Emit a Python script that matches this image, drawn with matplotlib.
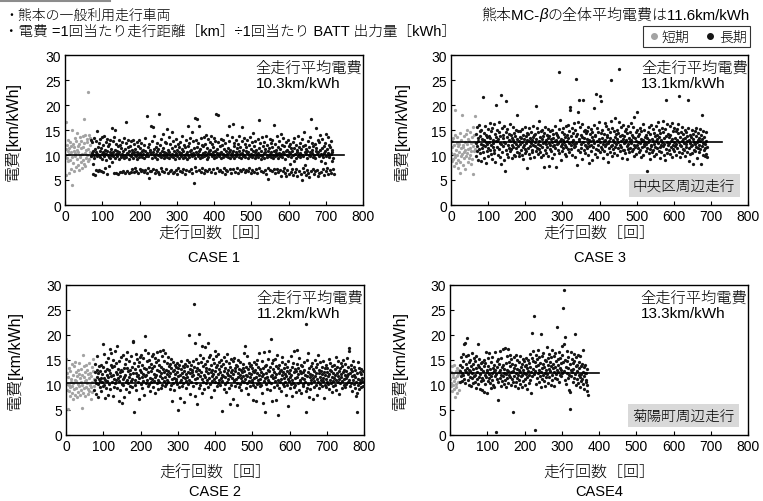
import numpy as np
import matplotlib
matplotlib.use("Agg")
import matplotlib.pyplot as plt
from matplotlib.lines import Line2D

plt.rcParams['font.family'] = ['Liberation Sans', 'Noto Sans CJK JP', 'DejaVu Sans']
plt.rcParams['font.weight'] = 'light'
plt.rcParams['axes.labelweight'] = 'light'

# ---- data: 電費 [km/kWh] per run (run number = position in the series) ----
c1_short = [
    9.8, 16.7, 11.2, 6.0, 12.1, 9.5, 10.8, 13.0, 8.9, 11.5,
    6.4, 10.2, 12.6, 9.1, 11.9, 7.2, 10.6, 4.0, 15.1, 9.7,
    12.3, 8.4, 10.9, 11.6, 6.8, 13.4, 9.9, 10.4, 7.6, 12.8,
    11.1, 9.3, 14.4, 8.1, 10.7, 11.8, 7.0, 12.2, 9.6, 13.7,
    10.1, 8.6, 11.4, 12.9, 7.4, 10.3, 13.9, 9.0, 11.7, 17.2,
    8.3, 12.4, 10.5, 14.1, 7.8, 11.0, 9.4, 12.7, 10.0, 13.2,
    8.8, 11.3, 22.7, 9.2, 14.0, 10.6, 12.0, 13.5, 9.9]
c1_long = [
    13.1, 9.8, 10.4, 12.7, 6.3, 10.9, 8.2, 13.4, 10.1, 9.5, 6.0, 11.2, 10.6, 7.1, 12.9, 14.8, 9.9, 10.3, 6.8, 11.7,
    10.0, 12.4, 7.0, 9.6, 13.2, 10.8, 6.9, 11.5, 10.2, 13.6, 9.3, 10.7, 12.1, 6.6, 10.5, 13.9, 9.8, 11.0, 7.4, 12.6,
    10.3, 9.1, 13.3, 10.9, 6.2, 11.8, 10.0, 12.2, 9.7, 7.8, 10.6, 13.0, 9.4, 11.3, 10.1, 15.4, 8.7, 10.4, 12.8, 9.9,
    10.7, 13.7, 6.4, 11.1, 9.5, 15.1, 10.2, 12.3, 6.5, 10.8, 9.8, 11.9, 6.3, 10.4, 13.1, 9.2, 10.6, 6.7, 12.0, 10.1,
    9.6, 11.4, 6.6, 10.3, 12.7, 9.9, 6.8, 10.9, 13.4, 9.4, 11.2, 6.4, 10.0, 12.5, 9.7, 16.7, 10.5, 6.9, 11.6, 10.2,
    13.0, 9.3, 6.5, 10.8, 11.9, 10.1, 6.7, 12.9, 9.8, 10.4, 7.2, 11.0, 13.0, 9.5, 6.6, 10.7, 12.2, 10.0, 7.5, 11.3,
    9.9, 6.9, 10.6, 12.6, 9.2, 10.3, 6.4, 11.8, 13.1, 9.7, 7.3, 10.5, 11.4, 6.8, 10.1, 12.4, 9.6, 7.0, 10.9, 11.1,
    10.2, 6.6, 12.0, 9.4, 10.8, 7.1, 13.5, 10.0, 9.8, 6.5, 17.8, 10.4, 11.7, 7.4, 9.9, 5.5, 12.3, 10.6, 6.9, 11.0,
    15.8, 10.3, 6.8, 12.8, 9.5, 15.7, 10.7, 7.2, 11.3, 10.0, 13.9, 6.4, 9.7, 11.6, 10.2, 7.0, 12.5, 9.3, 10.9, 6.7,
    11.2, 10.1, 18.2, 6.3, 9.8, 12.1, 10.5, 7.5, 13.2, 9.6, 10.8, 6.9, 11.5, 10.0, 14.3, 9.4, 6.6, 10.6, 12.7, 9.9,
    10.4, 7.3, 12.4, 9.7, 15.2, 10.2, 6.5, 11.1, 9.5, 13.6, 10.7, 6.8, 10.0, 12.2, 9.8, 7.1, 11.4, 14.7, 10.3, 6.4,
    9.6, 12.9, 10.9, 6.7, 11.8, 10.1, 9.3, 7.0, 13.3, 10.5, 6.2, 11.0, 9.9, 12.3, 7.4, 10.6, 11.7, 9.4, 6.9, 10.2,
    12.6, 9.8, 10.4, 6.6, 11.3, 13.8, 9.5, 10.8, 7.2, 10.0, 12.0, 6.3, 9.7, 11.6, 10.3, 13.1, 7.0, 10.7, 9.2, 11.9,
    15.8, 10.1, 6.8, 12.4, 9.6, 10.9, 13.5, 7.3, 10.2, 11.1, 9.9, 14.6, 6.5, 10.5, 12.8, 4.5, 10.0, 11.4, 7.6, 9.4,
    17.5, 10.6, 13.0, 6.9, 11.7, 17.3, 9.8, 10.3, 12.5, 7.1, 15.9, 10.8, 9.5, 11.2, 6.6, 13.4, 10.0, 9.7, 12.1, 7.4,
    10.4, 11.9, 6.4, 13.7, 9.9, 10.7, 7.0, 12.3, 10.1, 14.1, 9.3, 6.8, 11.5, 10.5, 13.2, 9.6, 7.3, 10.9, 12.7, 10.2,
    11.0, 6.7, 13.9, 10.3, 9.8, 12.2, 7.2, 10.6, 11.6, 9.4, 13.5, 10.0, 6.5, 12.9, 10.8, 18.3, 9.7, 11.3, 7.5, 10.4,
    18.0, 10.1, 12.6, 6.9, 9.9, 11.8, 10.5, 7.1, 13.3, 9.5, 10.7, 6.6, 12.1, 10.2, 9.6, 13.0, 7.4, 11.2, 10.0, 6.3,
    12.4, 9.8, 10.9, 7.0, 14.0, 10.3, 6.8, 11.5, 9.7, 12.8, 15.9, 10.6, 7.3, 9.4, 11.1, 10.0, 6.5, 13.6, 10.4, 9.9,
    16.2, 10.8, 7.2, 11.9, 9.5, 12.5, 10.1, 6.7, 10.6, 13.1, 9.8, 7.5, 11.4, 10.3, 6.4, 12.2, 9.6, 10.9, 13.8, 7.0,
    10.2, 11.7, 9.4, 6.9, 12.9, 15.7, 10.5, 7.3, 9.9, 11.0, 13.4, 10.0, 6.6, 12.3, 9.7, 10.8, 7.1, 11.6, 10.4, 13.0,
    9.5, 6.8, 10.7, 12.0, 10.1, 7.4, 13.7, 9.8, 11.3, 6.5, 10.3, 12.6, 9.6, 7.0, 10.9, 14.5, 10.0, 6.7, 11.8, 9.4,
    10.6, 12.8, 7.2, 9.9, 11.1, 10.2, 6.4, 13.2, 10.5, 9.7, 17.0, 7.5, 11.5, 10.0, 12.4, 9.3, 6.9, 10.8, 13.6, 10.1,
    9.8, 11.9, 6.6, 10.4, 12.7, 9.5, 7.1, 11.2, 10.7, 13.9, 6.3, 10.0, 9.6, 12.1, 7.4, 5.3, 10.9, 11.4, 9.9, 13.3,
    10.3, 7.0, 12.5, 9.7, 10.6, 6.8, 11.7, 13.1, 9.4, 10.1, 16.0, 7.3, 10.8, 12.2, 9.9, 6.5, 11.0, 10.4, 13.8, 7.2,
    10.0, 11.6, 9.5, 6.6, 12.9, 10.5, 7.1, 9.8, 11.3, 14.2, 5.9, 10.2, 12.0, 9.6, 6.9, 10.7, 13.5, 7.4, 10.3, 11.8,
    9.3, 6.4, 10.9, 12.6, 5.8, 10.1, 11.1, 7.0, 13.0, 9.9, 6.2, 10.6, 11.9, 8.3, 10.4, 12.3, 6.7, 9.7, 11.4, 7.3,
    10.8, 12.7, 6.1, 10.0, 8.9, 11.5, 13.4, 6.6, 10.3, 9.5, 12.1, 7.2, 10.7, 11.0, 5.9, 9.8, 13.9, 10.2, 6.9, 11.7,
    9.6, 12.4, 10.5, 6.3, 11.2, 5.0, 10.0, 13.2, 7.4, 9.9, 11.8, 6.7, 14.6, 10.6, 8.1, 12.0, 6.0, 10.3, 11.3, 7.1,
    10.9, 9.4, 12.9, 6.5, 10.1, 11.6, 5.7, 13.6, 9.8, 10.7, 17.2, 6.8, 11.1, 10.4, 12.5, 7.3, 9.7, 11.9, 6.2, 10.0,
    12.2, 9.5, 6.9, 10.8, 11.4, 15.5, 7.0, 10.2, 13.1, 5.8, 10.6, 9.9, 12.7, 6.4, 11.0, 14.0, 8.8, 10.3, 6.6, 11.5,
    10.1, 13.3, 7.2, 9.6, 11.8, 6.1, 10.5, 12.4, 8.4, 10.9, 14.2, 6.8, 9.8, 11.2, 7.5, 10.4, 13.7, 6.3, 10.0, 12.0,
    9.7, 7.1, 11.6, 10.3, 6.5, 12.8, 8.9, 10.6, 11.1, 7.3, 9.4, 6.2]

c2_short = [
    15.3, 10.2, 12.4, 9.1, 5.2, 11.6, 8.8, 13.5, 10.0, 9.6,
    12.9, 7.8, 11.3, 10.7, 14.2, 8.4, 9.9, 12.1, 10.5, 7.3,
    13.8, 9.2, 11.0, 14.7, 8.1, 10.8, 12.6, 9.5, 11.9, 7.6,
    13.1, 10.3, 8.7, 12.3, 9.8, 14.5, 11.4, 8.0, 10.6, 13.3,
    9.0, 5.5, 12.0, 10.1, 16.0, 8.5, 11.7, 13.9, 9.4, 10.9,
    12.7, 7.9, 11.1, 14.1, 9.7, 10.4, 13.0, 8.3, 12.2, 9.3,
    11.5, 14.4, 8.9, 10.0, 12.5, 7.2, 11.8, 9.6, 13.6, 10.7,
    8.6, 12.8, 15.2, 9.9, 11.2]
c2_long = [
    9.1, 12.6, 11.0, 14.3, 10.4, 8.2, 13.1, 11.7, 15.9, 10.2, 12.4, 7.6, 11.3, 13.8, 10.8, 9.6, 12.9, 11.5, 8.9, 14.1,
    10.7, 12.2, 13.6, 9.9, 18.3, 11.4, 16.2, 10.1, 7.5, 12.8, 11.1, 14.6, 9.4, 13.3, 10.9, 12.0, 8.1, 15.4, 11.6, 13.0,
    10.3, 17.2, 12.5, 9.2, 14.0, 11.8, 16.5, 10.6, 13.7, 7.8, 12.1, 15.1, 11.2, 9.7, 13.9, 10.5, 16.8, 12.7, 11.0, 14.4,
    9.5, 12.3, 17.9, 11.5, 13.2, 6.9, 10.8, 14.8, 12.6, 11.9, 9.0, 15.6, 13.0, 10.2, 6.4, 12.9, 11.3, 16.1, 10.0, 13.5,
    11.7, 7.7, 14.2, 12.0, 10.6, 15.3, 9.3, 13.4, 11.1, 16.6, 10.4, 12.8, 8.6, 14.9, 11.6, 13.1, 9.8, 12.2, 15.8, 10.9,
    13.6, 11.2, 9.6, 18.7, 18.9, 12.4, 4.6, 14.5, 11.0, 13.3, 10.1, 16.3, 12.5, 9.1, 15.2, 11.8, 13.9, 10.7, 12.1, 14.7,
    11.4, 7.2, 13.0, 15.7, 10.3, 12.7, 16.0, 11.6, 9.4, 14.1, 12.2, 10.8, 15.5, 13.5, 8.0, 11.9, 17.0, 19.8, 10.5, 13.2,
    12.0, 14.8, 11.1, 9.9, 16.4, 12.6, 10.2, 15.0, 13.7, 11.5, 8.8, 14.3, 12.9, 10.6, 15.9, 11.3, 13.4, 9.6, 16.2, 12.3,
    10.9, 13.8, 11.7, 15.4, 8.5, 12.1, 14.6, 10.4, 13.1, 16.7, 11.0, 9.2, 15.1, 12.8, 10.7, 14.0, 11.9, 16.9, 9.5, 13.6,
    12.4, 10.1, 15.8, 11.4, 13.3, 17.1, 10.8, 12.7, 14.9, 9.8, 11.6, 16.5, 13.0, 10.3, 12.2, 14.4, 11.1, 15.6, 12.9, 10.6,
    13.9, 11.8, 9.3, 14.2, 12.5, 10.0, 15.3, 13.4, 11.2, 6.8, 12.8, 14.7, 10.5, 13.1, 11.5, 9.1, 14.0, 12.3, 10.9, 13.7,
    11.3, 12.6, 14.5, 10.2, 5.1, 13.5, 11.9, 9.7, 14.1, 12.0, 10.7, 7.4, 13.2, 11.0, 14.8, 12.4, 9.9, 13.8, 11.6, 10.4,
    12.9, 6.6, 13.6, 11.4, 14.3, 10.8, 12.2, 9.5, 13.9, 11.7, 15.0, 10.3, 12.7, 14.6, 20.0, 11.1, 13.3, 8.3, 12.5, 14.0,
    10.6, 13.1, 11.8, 12.6, 14.9, 9.8, 12.1, 26.3, 13.7, 11.2, 18.4, 7.9, 12.8, 10.4, 15.2, 11.5, 13.4, 6.3, 12.3, 14.4,
    9.4, 20.3, 13.0, 11.9, 16.1, 10.1, 12.6, 14.7, 8.4, 17.8, 11.3, 13.8, 10.7, 15.5, 12.0, 9.2, 14.2, 11.6, 17.6, 12.9,
    10.5, 13.5, 11.0, 14.8, 18.5, 12.4, 9.6, 15.7, 11.4, 13.2, 10.2, 16.0, 12.7, 7.6, 14.1, 11.8, 13.0, 10.9, 15.3, 12.2,
    9.0, 14.5, 11.2, 16.8, 12.9, 10.6, 13.7, 15.9, 11.7, 9.8, 14.0, 12.3, 16.3, 10.4, 13.3, 11.1, 14.6, 12.6, 10.0, 15.1,
    11.5, 13.9, 10.8, 12.1, 4.8, 14.3, 11.9, 9.3, 15.6, 12.8, 10.3, 13.4, 11.6, 14.9, 8.7, 12.5, 10.7, 16.2, 11.3, 13.1,
    12.0, 9.5, 14.4, 11.8, 13.6, 6.2, 12.7, 15.2, 10.1, 13.0, 11.4, 7.3, 14.8, 12.3, 10.9, 15.4, 11.0, 13.5, 9.9, 12.9,
    14.1, 11.2, 10.5, 13.8, 6.1, 12.4, 15.0, 11.7, 9.7, 13.3, 12.1, 10.2, 14.6, 11.5, 13.1, 9.1, 12.6, 10.8, 14.2, 11.9,
    13.4, 10.6, 12.8, 16.5, 17.9, 11.3, 9.4, 13.7, 12.0, 10.4, 15.8, 11.8, 13.2, 8.2, 12.5, 14.5, 10.9, 11.6, 13.9, 9.8,
    12.2, 14.0, 10.7, 11.1, 13.5, 7.1, 12.9, 10.0, 14.7, 11.4, 12.6, 9.6, 13.0, 6.9, 11.7, 14.3, 10.3, 12.4, 15.1, 11.0,
    13.6, 10.5, 12.0, 16.4, 11.3, 9.9, 13.2, 12.7, 10.1, 14.8, 8.5, 11.9, 13.4, 6.5, 12.3, 10.8, 16.6, 11.5, 13.8, 4.7,
    12.5, 10.2, 14.1, 11.6, 9.3, 13.0, 15.3, 11.1, 12.8, 10.6, 16.9, 9.0, 13.6, 11.8, 19.2, 10.4, 12.1, 6.8, 14.5, 15.0,
    11.4, 13.3, 9.7, 12.6, 10.9, 15.2, 11.7, 7.0, 13.9, 12.2, 10.0, 16.1, 11.0, 13.5, 4.1, 12.4, 9.5, 14.0, 10.7, 12.8,
    13.1, 11.3, 8.8, 14.6, 12.0, 15.6, 10.3, 12.7, 9.8, 13.4, 11.5, 10.6, 14.2, 12.3, 8.0, 11.9, 13.7, 10.1, 12.9, 5.8,
    11.2, 14.9, 10.8, 12.5, 9.4, 13.0, 11.6, 10.2, 15.9, 12.1, 7.9, 13.6, 11.0, 10.5, 14.4, 12.6, 9.6, 16.8, 11.4, 13.2,
    10.0, 12.9, 8.6, 14.3, 17.0, 11.7, 10.4, 13.5, 12.2, 9.1, 15.4, 11.1, 12.8, 10.7, 14.0, 8.4, 12.4, 11.5, 13.9, 10.3,
    12.6, 9.9, 14.7, 11.3, 13.1, 10.6, 12.0, 22.2, 8.9, 4.6, 15.1, 11.8, 9.5, 12.7, 16.4, 10.2, 13.4, 7.7, 11.6, 12.3,
    9.2, 13.8, 11.0, 10.5, 14.5, 12.1, 7.2, 11.4, 13.3, 10.8, 12.9, 9.7, 15.0, 11.9, 10.1, 13.6, 12.5, 8.1, 14.2, 11.2,
    10.6, 16.0, 12.4, 9.4, 13.1, 11.6, 14.6, 10.3, 12.8, 11.0, 9.8, 13.7, 12.2, 10.9, 14.9, 11.5, 7.5, 12.6, 13.4, 10.0,
    12.0, 11.3, 14.1, 9.6, 12.7, 10.7, 13.5, 11.8, 10.2, 15.3, 12.3, 9.3, 13.0, 11.1, 14.4, 10.5, 12.9, 8.6, 11.7, 13.8,
    10.8, 12.5, 9.9, 14.0, 11.4, 13.2, 10.1, 12.1, 15.7, 11.0, 9.0, 13.6, 12.4, 10.6, 14.8, 11.9, 8.3, 12.8, 11.2, 13.4,
    10.4, 14.5, 11.6, 12.2, 9.5, 13.9, 10.9, 12.6, 15.1, 11.3, 10.0, 13.1, 12.0, 9.7, 14.3, 11.5, 12.9, 10.3, 15.4, 11.8,
    12.3, 10.7, 13.7, 11.1, 17.5, 16.9, 12.5, 9.8, 14.1, 10.5, 13.3, 11.9, 8.8, 12.8, 14.9, 11.0, 10.2, 13.6, 12.1, 9.4,
    11.7, 13.0, 10.6, 7.8, 4.6, 12.4, 8.5, 14.6, 11.3, 10.1, 13.5, 9.2, 12.7, 11.0, 10.4, 13.2, 9.6, 12.2, 11.5, 10.8,
    12.9, 9.9]

c3_short = [
    10.5, 12.8, 8.9, 11.6, 13.4, 9.2, 7.8, 12.1, 10.3, 14.0,
    9.6, 19.0, 11.1, 8.4, 12.5, 10.0, 13.7, 9.0, 11.9, 7.5,
    12.3, 10.7, 14.5, 8.7, 6.4, 11.4, 9.8, 13.1, 10.2, 18.0,
    12.0, 8.1, 11.7, 9.4, 13.9, 10.6, 12.6, 7.2, 11.0, 14.3,
    9.9, 12.2, 10.4, 15.1, 8.6, 11.3, 13.2, 9.5, 12.9, 10.1,
    14.7, 11.5, 8.3, 12.4, 10.8, 13.6, 9.3, 11.8, 15.6, 6.3,
    12.7, 10.9, 14.1, 11.2, 17.8]
c3_long = [
    9.8, 14.2, 12.5, 10.9, 15.6, 11.8, 13.4, 9.1, 12.9, 16.0, 11.2, 13.9, 10.4, 14.8, 12.2, 8.8, 15.1, 11.5, 13.3, 21.6,
    12.0, 10.6, 14.5, 13.1, 9.5, 15.8, 11.9, 12.7, 8.4, 14.0, 13.6, 10.8, 12.3, 15.2, 11.4, 9.9, 13.8, 12.6, 16.4, 11.0,
    13.5, 10.2, 14.9, 12.1, 9.3, 15.4, 11.7, 13.0, 12.4, 10.5, 16.2, 11.1, 14.3, 8.6, 12.8, 13.7, 20.0, 11.6, 15.0, 12.9,
    10.0, 13.2, 16.6, 11.3, 14.7, 12.5, 9.7, 13.9, 8.2, 22.0, 12.2, 15.5, 10.7, 13.4, 11.8, 14.1, 9.0, 12.7, 15.9, 6.9,
    12.4, 14.6, 20.8, 11.0, 13.6, 10.3, 15.3, 12.0, 9.6, 14.2, 11.5, 13.1, 16.3, 10.9, 12.8, 14.0, 11.2, 9.4, 13.5, 12.1,
    15.7, 11.6, 13.0, 10.1, 14.4, 12.6, 9.8, 13.8, 11.4, 15.0, 12.3, 10.6, 18.0, 13.3, 11.9, 14.9, 10.4, 12.9, 9.9, 13.7,
    12.2, 14.8, 11.1, 13.4, 10.0, 15.2, 12.7, 9.2, 14.1, 11.7, 13.2, 12.0, 10.5, 15.6, 11.3, 13.9, 12.5, 10.8, 14.5, 7.5,
    13.0, 11.5, 14.3, 12.8, 10.2, 15.4, 11.9, 13.5, 9.5, 12.4, 14.7, 11.0, 13.1, 10.7, 15.8, 12.1, 13.7, 9.7, 14.0, 11.8,
    12.6, 14.2, 19.8, 10.9, 13.3, 11.4, 15.5, 12.3, 10.3, 14.6, 12.9, 11.2, 16.8, 13.6, 10.6, 12.0, 14.9, 9.6, 13.2, 15.1,
    11.7, 13.8, 12.4, 10.1, 7.6, 14.4, 12.7, 11.1, 15.7, 13.0, 10.4, 12.2, 14.1, 11.6, 13.5, 9.8, 15.3, 12.5, 7.9, 13.9,
    12.1, 14.8, 11.3, 13.2, 10.8, 15.0, 12.6, 9.4, 14.3, 11.9, 13.4, 12.0, 10.2, 15.9, 12.8, 11.5, 14.5, 7.7, 13.1, 12.3,
    14.0, 11.0, 13.6, 12.4, 26.6, 10.5, 15.2, 12.9, 17.1, 11.8, 13.3, 9.1, 14.6, 12.2, 10.9, 15.5, 13.0, 11.4, 14.2, 12.7,
    10.3, 13.7, 12.1, 15.8, 11.6, 9.9, 14.1, 12.8, 16.1, 11.2, 13.5, 10.6, 12.5, 14.9, 19.0, 19.6, 12.0, 13.9, 11.3, 15.4,
    12.6, 10.1, 14.4, 13.1, 11.7, 16.5, 12.3, 9.6, 15.0, 11.9, 13.8, 12.4, 25.2, 8.0, 14.3, 16.6, 11.1, 18.7, 13.2, 21.0,
    12.9, 10.7, 15.6, 11.5, 14.0, 12.2, 9.3, 13.7, 16.2, 21.0, 12.7, 11.0, 14.8, 13.4, 10.4, 15.1, 12.0, 11.8, 14.5, 13.3,
    11.4, 14.9, 12.5, 10.0, 15.7, 13.0, 11.9, 8.5, 14.2, 12.8, 10.8, 15.3, 12.1, 13.6, 9.0, 14.6, 11.6, 13.1, 16.0, 19.5,
    12.4, 10.3, 14.1, 13.8, 22.2, 11.2, 15.5, 12.9, 9.7, 14.7, 12.0, 11.1, 16.7, 13.3, 10.6, 21.9, 12.6, 14.4, 11.7, 20.8,
    13.5, 11.3, 15.0, 12.3, 9.4, 14.3, 12.8, 10.9, 16.4, 13.1, 11.8, 15.8, 12.2, 10.2, 14.0, 13.7, 8.7, 12.5, 15.2, 11.5,
    12.9, 14.6, 10.7, 13.4, 11.9, 16.9, 25.0, 12.1, 9.8, 15.4, 13.0, 11.2, 14.8, 12.6, 10.5, 17.5, 13.6, 11.6, 14.2, 12.3,
    10.0, 15.1, 13.2, 11.4, 14.5, 12.7, 16.6, 27.2, 12.0, 10.8, 13.9, 15.6, 11.7, 12.9, 9.5, 14.1, 13.3, 11.0, 16.1, 12.4,
    13.8, 11.1, 14.9, 12.6, 10.4, 15.3, 13.0, 11.8, 9.2, 14.4, 12.2, 15.9, 11.3, 13.5, 10.7, 12.8, 14.7, 11.5, 13.1, 16.4,
    12.5, 10.9, 14.0, 13.6, 11.2, 15.7, 12.1, 9.9, 17.6, 13.4, 11.6, 14.6, 12.8, 10.3, 18.6, 12.0, 15.0, 11.4, 13.9, 12.7,
    10.6, 14.3, 12.4, 15.4, 11.0, 13.2, 9.6, 14.8, 12.9, 11.7, 16.3, 13.1, 10.1, 12.3, 15.1, 11.9, 13.7, 12.6, 10.8, 14.1,
    12.2, 13.5, 6.8, 11.5, 14.7, 12.7, 10.4, 15.6, 13.0, 11.3, 9.3, 14.2, 12.1, 16.0, 11.8, 13.3, 10.7, 15.2, 12.8, 11.1,
    14.5, 12.3, 9.8, 13.8, 11.6, 15.8, 12.9, 10.2, 14.0, 13.2, 11.4, 16.7, 12.5, 10.9, 13.6, 15.0, 11.7, 9.4, 14.4, 12.0,
    13.1, 10.6, 15.5, 12.6, 11.9, 14.6, 16.8, 10.0, 13.4, 12.2, 9.0, 15.3, 21.0, 11.3, 13.9, 12.7, 10.5, 16.2, 12.1, 14.3,
    11.0, 13.7, 12.4, 15.9, 10.3, 14.1, 12.9, 11.6, 16.5, 9.7, 13.3, 12.0, 14.8, 11.2, 15.4, 12.6, 10.8, 13.5, 11.8, 14.9,
    12.3, 10.1, 15.2, 13.0, 11.5, 14.4, 16.3, 12.7, 21.8, 10.7, 13.6, 12.1, 9.6, 14.6, 11.9, 15.7, 12.8, 10.4, 13.2, 11.3,
    14.2, 12.5, 11.0, 15.0, 13.4, 9.9, 12.2, 14.7, 11.7, 13.8, 10.6, 12.9, 21.0, 15.5, 11.4, 13.1, 8.8, 14.0, 12.4, 10.2,
    13.6, 11.8, 15.1, 12.0, 10.5, 14.3, 13.2, 8.3, 12.7, 11.1, 14.9, 12.3, 10.9, 13.9, 11.6, 15.4, 12.6, 9.5, 13.0, 11.4,
    14.5, 12.1, 10.7, 13.4, 11.3, 15.2, 12.9, 8.2, 14.0, 18.0, 11.9, 13.3, 10.1, 12.5, 14.8, 11.0, 13.7, 9.8, 12.2, 11.5,
    14.6, 10.3, 12.8, 11.7, 9.6]

c4_short = [11.2, 9.8, 12.6, 10.4, 13.9, 8.9, 11.7, 10.1, 12.3, 9.3, 14.0, 10.8, 7.7,
            11.5, 12.9, 9.6, 10.3, 13.4, 8.4, 11.9, 12.2, 10.6, 13.1, 9.1, 12.5]
c4_long = [
    12.9, 10.7, 14.1, 11.8, 15.6, 12.4, 13.7, 10.9, 16.2, 12.0, 14.8, 11.3, 18.3, 13.1, 18.4, 10.5, 15.9, 12.6, 14.3, 19.5,
    13.5, 11.1, 16.0, 12.2, 10.1, 14.6, 13.0, 11.6, 15.1, 12.8, 9.9, 13.9, 11.4, 16.5, 12.5, 10.4, 14.2, 13.2, 11.9, 15.4,
    12.1, 10.6, 14.9, 13.4, 9.5, 15.8, 11.2, 12.7, 14.0, 18.2, 10.2, 13.6, 11.7, 15.3, 9.2, 12.3, 14.5, 10.8, 13.3, 11.5,
    14.7, 9.0, 12.9, 11.0, 15.0, 13.8, 8.7, 12.0, 10.3, 14.4, 16.7, 11.6, 13.1, 8.5, 12.6, 15.5, 10.9, 13.9, 11.4, 12.2,
    16.4, 10.5, 13.2, 11.8, 9.4, 14.6, 12.4, 15.7, 11.1, 13.5, 10.0, 14.1, 12.8, 9.7, 16.6, 11.9, 13.0, 0.7, 12.3, 14.9,
    11.3, 13.7, 10.6, 15.2, 7.0, 12.7, 14.3, 11.5, 16.9, 13.1, 9.8, 12.0, 15.4, 10.8, 13.6, 17.3, 11.9, 14.0, 12.5, 10.2,
    13.3, 17.4, 11.0, 14.5, 12.2, 9.6, 15.9, 13.0, 11.4, 17.2, 12.8, 10.4, 14.7, 12.1, 16.1, 11.7, 13.8, 10.0, 15.3, 12.6,
    11.2, 14.2, 12.9, 10.7, 4.7, 13.5, 15.6, 11.8, 9.9, 14.0, 12.4, 16.0, 10.6, 13.2, 11.5, 15.1, 12.0, 9.4, 14.6, 13.1,
    11.0, 12.7, 15.8, 10.3, 13.6, 11.9, 14.3, 12.1, 9.6, 15.2, 13.0, 10.9, 12.5, 14.8, 11.3, 13.9, 10.1, 15.4, 12.3, 14.1,
    11.6, 9.2, 13.4, 12.8, 15.0, 10.5, 14.4, 12.0, 16.3, 11.1, 13.7, 8.4, 12.6, 15.5, 20.5, 11.8, 14.9, 13.3, 16.8, 12.2,
    23.8, 14.6, 1.1, 12.9, 16.1, 10.2, 13.8, 15.3, 11.5, 14.0, 12.4, 17.0, 10.7, 13.1, 15.7, 11.9, 14.5, 20.3, 12.7, 9.6,
    13.5, 15.9, 11.2, 14.2, 12.0, 16.4, 10.8, 13.7, 15.1, 12.5, 9.8, 14.8, 11.6, 13.0, 17.6, 12.2, 15.4, 10.4, 14.1, 13.3,
    11.7, 16.2, 12.8, 14.7, 10.1, 13.9, 15.6, 12.1, 11.0, 17.1, 13.4, 14.3, 12.6, 9.9, 15.8, 11.4, 13.6, 16.5, 12.3, 14.9,
    13.0, 11.3, 21.7, 15.2, 12.7, 14.0, 10.6, 16.7, 13.5, 12.0, 15.5, 11.8, 14.4, 13.1, 17.8, 12.5, 16.0, 25.5, 14.6, 29.0,
    12.9, 18.2, 11.1, 15.0, 19.7, 13.7, 10.3, 14.8, 12.4, 16.9, 11.5, 13.4, 15.7, 9.0, 12.1, 14.2, 8.6, 5.3, 13.0, 16.6,
    11.9, 15.3, 12.6, 10.7, 14.5, 13.2, 16.3, 11.4, 14.9, 20.2, 12.3, 10.1, 15.6, 13.8, 11.2, 14.1, 12.8, 16.1, 10.5, 13.5,
    12.0, 14.7, 11.6, 9.7, 15.9, 12.2, 13.9, 10.9, 14.3, 11.3, 17.0, 12.7, 10.2, 13.6, 11.8, 9.3, 14.0, 12.4, 10.6, 11.1,
    12.5, 10.0, 13.2, 8.8, 8.0]

case_titles = ["CASE 1", "CASE 3", "CASE 2", "CASE4"]
avg_line = [10.0, 12.7, 10.5, 12.5]       # level of drawn average line
avg_line_end = [750, 730, 800, 400]       # run count where line ends
avg_text = ["10.3km/kWh", "13.1km/kWh", "11.2km/kWh", "13.3km/kWh"]
area_text = [None, "中央区周辺走行", None, "菊陽町周辺走行"]
shorts = [c1_short, c3_short, c2_short, c4_short]
longs = [c1_long, c3_long, c2_long, c4_long]

GRAY = '#a3a3a3'
BLACK = '#151515'

fig = plt.figure(figsize=(7.63, 5.02), dpi=100)
W, H = 763, 502
boxes = [(65, 56, 363, 206), (451, 56, 748, 206), (66, 286, 364, 436), (450, 286, 748, 436)]
ylab_x = [-0.148, -0.138, -0.144, -0.141]

for i, (l, t, r, b) in enumerate(boxes):
    ax = fig.add_axes([l / W, 1 - b / H, (r - l) / W, (b - t) / H])
    s = shorts[i]
    lg = longs[i]
    xs = np.arange(1, len(s) + 1)
    xl = np.arange(len(s) + 1, len(s) + len(lg) + 1)
    ax.scatter(xs, s, s=5.5, color=GRAY, linewidths=0, zorder=2)
    ax.scatter(xl, lg, s=5.5, color=BLACK, linewidths=0, zorder=3)
    ax.plot([0, avg_line_end[i]], [avg_line[i]] * 2, color='black', lw=1.2, zorder=4)
    ax.set_xlim(0, 800)
    ax.set_ylim(0, 30)
    ax.set_xticks(np.arange(0, 801, 100))
    ax.set_yticks(np.arange(0, 31, 5))
    ax.tick_params(direction='in', length=3, labelsize=10, top=False, right=False, pad=3)
    for sp in ax.spines.values():
        sp.set_linewidth(1.0)
    ax.set_ylabel("電費[km/kWh]", fontsize=11.5, fontweight='light')
    ax.yaxis.set_label_coords(ylab_x[i], 0.5)
    top_row = i < 2
    ax.text(0.5, -0.184 if top_row else -0.238, "走行回数［回］", transform=ax.transAxes,
            ha='center', va='center', fontsize=11.5)
    ax.text(0.5, -0.344 if top_row else -0.371, case_titles[i], transform=ax.transAxes,
            ha='center', va='center', fontsize=10.5)
    ax.text(0.64, 0.965, "全走行平均電費\n" + avg_text[i], transform=ax.transAxes,
            ha='left', va='top', fontsize=11, linespacing=1.15, fontweight='light')
    if area_text[i]:
        ax.text(0.785, 0.128, area_text[i], transform=ax.transAxes, ha='center', va='center',
                fontsize=10.5, bbox=dict(boxstyle='square,pad=0.3', facecolor='#d9d9d9', edgecolor='none'),
                zorder=5)

# header
fig.add_artist(Line2D([0, 110 / W], [1 - 2 / H] * 2, color='#8c8c8c', lw=1.5))
fig.text(4 / W, 1 - 16 / H, "・熊本の一般利用走行車両", ha='left', va='center', fontsize=10)
fig.text(4 / W, 1 - 32 / H, "・電費 =1回当たり走行距離［km］÷1回当たり BATT 出力量［kWh］",
         ha='left', va='center', fontsize=10.5)

# right header, drawn right to left so the italic beta sits in place
renderer = fig.canvas.get_renderer()
hy = 1 - 19.5 / H
t3 = fig.text(750 / W, hy, "の全体平均電費は11.6km/kWh", ha='right', va='baseline', fontsize=10.8)
x_next = t3.get_window_extent(renderer).x0 / fig.bbox.width
t2 = fig.text(x_next, hy, "β", ha='right', va='baseline', fontsize=10.8, style='italic',
              family=['Liberation Sans', 'DejaVu Sans'])
x_next = t2.get_window_extent(renderer).x0 / fig.bbox.width
fig.text(x_next, hy, "熊本MC-", ha='right', va='baseline', fontsize=10.8)

handles = [Line2D([], [], marker='o', ls='none', color=GRAY, markersize=4),
           Line2D([], [], marker='o', ls='none', color=BLACK, markersize=4)]
leg = fig.legend(handles, ["短期", "長期"], ncol=2, loc='upper right',
                 bbox_to_anchor=(750 / W, 1 - 27 / H), frameon=True, fancybox=False,
                 edgecolor='black', fontsize=10, handletextpad=0.1, columnspacing=1.0,
                 borderpad=0.25, handlelength=1.0, borderaxespad=0)
leg.get_frame().set_linewidth(0.8)

fig.savefig("out.png", dpi=100)
